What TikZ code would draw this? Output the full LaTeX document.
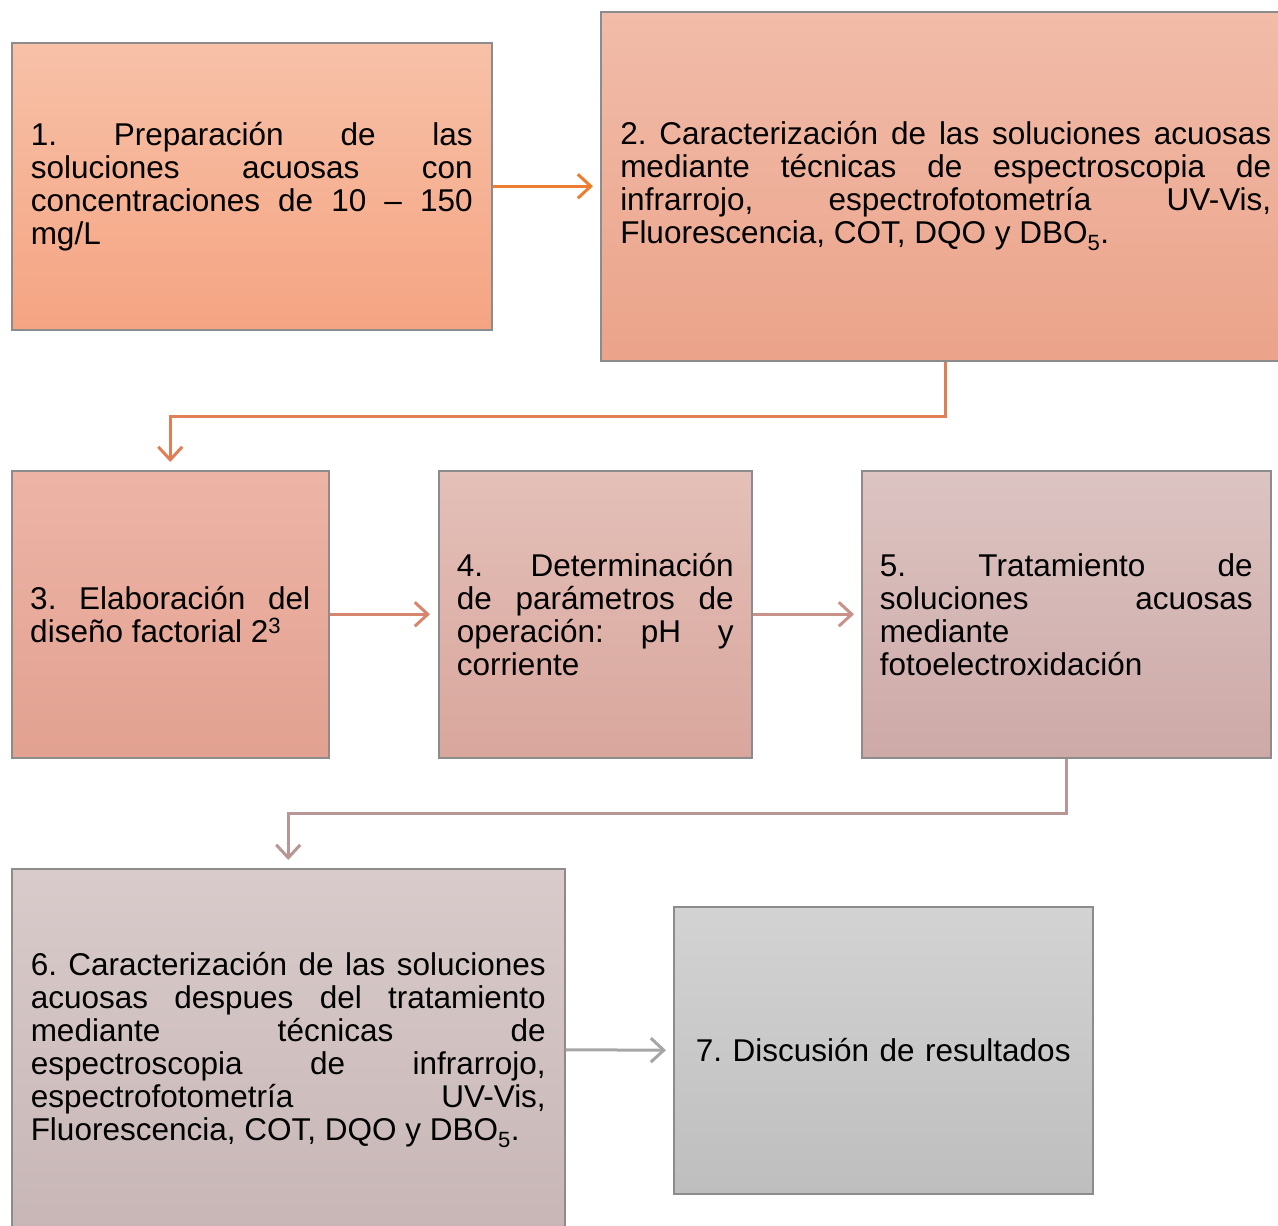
\documentclass[tikz,border=0pt]{standalone}
\usepackage{fontspec}
\setmainfont{Liberation Sans}
\usetikzlibrary{arrows.meta}
\hyphenpenalty=10000
\exhyphenpenalty=10000
\tolerance=10000
\frenchspacing
\definecolor{bordergray}{HTML}{8C8C8C}
\definecolor{bAt}{HTML}{F7C1A8}\definecolor{bAb}{HTML}{F5A482}
\definecolor{bBt}{HTML}{F1BCA9}\definecolor{bBb}{HTML}{EBA38A}
\definecolor{bCt}{HTML}{EDB4A6}\definecolor{bCb}{HTML}{E2A191}
\definecolor{bDt}{HTML}{E3C0B9}\definecolor{bDb}{HTML}{D9A69C}
\definecolor{bEt}{HTML}{DCC4C2}\definecolor{bEb}{HTML}{CDA9A7}
\definecolor{bFt}{HTML}{D9CBCB}\definecolor{bFb}{HTML}{C8B6B6}
\definecolor{bGt}{HTML}{D3D3D3}\definecolor{bGb}{HTML}{BEBEBE}
\definecolor{aA}{HTML}{ED7D31}
\definecolor{aB}{HTML}{E07E55}
\definecolor{aC}{HTML}{D6856E}
\definecolor{aD}{HTML}{C8918A}
\definecolor{aE}{HTML}{B99696}
\definecolor{aF}{HTML}{A6A6A6}
\begin{document}
\begin{tikzpicture}[x=1pt,y=-1pt,
  box/.style={draw=bordergray, line width=1.5pt, anchor=north west,
    align=justify, inner ysep=0pt,
    font=\fontsize{31.5}{33}\selectfont\frenchspacing},
  arr/.style={line width=3pt, -{Straight Barb[length=13pt,width=24pt,line width=3pt]}}
]
\useasboundingbox (0,0) rectangle (1278,1226);

\node[box, top color=bAt, bottom color=bAb, minimum width=480pt, minimum height=287pt,
  text width=442pt] (b1) at (11,42)
  {1. Preparación de las\linebreak soluciones acuosas con\linebreak concentraciones de 10 – 150\linebreak mg/L};

\node[box, top color=bBt, bottom color=bBb, minimum width=690pt, minimum height=349pt,
  text width=651pt] (b2) at (600,11)
  {2. Caracterización de las soluciones acuosas\linebreak mediante técnicas de espectroscopia de\linebreak infrarrojo, espectrofotometría UV-Vis,\linebreak Fluorescencia, COT, DQO y DBO\textsubscript{5}.};

\node[box, top color=bCt, bottom color=bCb, minimum width=317pt, minimum height=287pt,
  text width=280pt] (b3) at (11,470)
  {3. Elaboración del\linebreak diseño factorial 2\textsuperscript{3}};

\node[box, top color=bDt, bottom color=bDb, minimum width=313pt, minimum height=287pt,
  text width=277pt] (b4) at (438,470)
  {4. Determinación\linebreak de parámetros de\linebreak operación: pH y\linebreak corriente};

\node[box, top color=bEt, bottom color=bEb, minimum width=409pt, minimum height=287pt,
  text width=373pt] (b5) at (861,470)
  {5. Tratamiento de\linebreak soluciones acuosas\linebreak mediante\linebreak fotoelectroxidación};

\node[box, top color=bFt, bottom color=bFb, minimum width=553pt, minimum height=362pt,
  text width=515pt] (b6) at (11,868)
  {6. Caracterización de las soluciones\linebreak acuosas despues del tratamiento\linebreak mediante técnicas de\linebreak espectroscopia de infrarrojo,\linebreak espectrofotometría UV-Vis,\linebreak Fluorescencia, COT, DQO y DBO\textsubscript{5}.};

\node[box, top color=bGt, bottom color=bGb, minimum width=419pt, minimum height=287pt,
  text width=390pt, align=center] (b7) at (673,906)
  {7. Discusión de resultados};

\draw[arr, draw=aA, shorten >=7pt] (b1.east) -- (b2.west |- b1.east);
\draw[arr, draw=aB, shorten >=8pt] (b2.south) -- ++(0,55) -| (b3.north);
\draw[arr, draw=aC, shorten >=8pt] (b3.east) -- (b4.west);
\draw[arr, draw=aD, shorten >=7pt] (b4.east) -- (b5.west);
\draw[arr, draw=aE, shorten >=8pt] (b5.south) -- ++(0,55) -| (b6.north);
\draw[arr, draw=aF, shorten >=7pt] (b6.east) -- (b7.west);
\end{tikzpicture}
\end{document}
